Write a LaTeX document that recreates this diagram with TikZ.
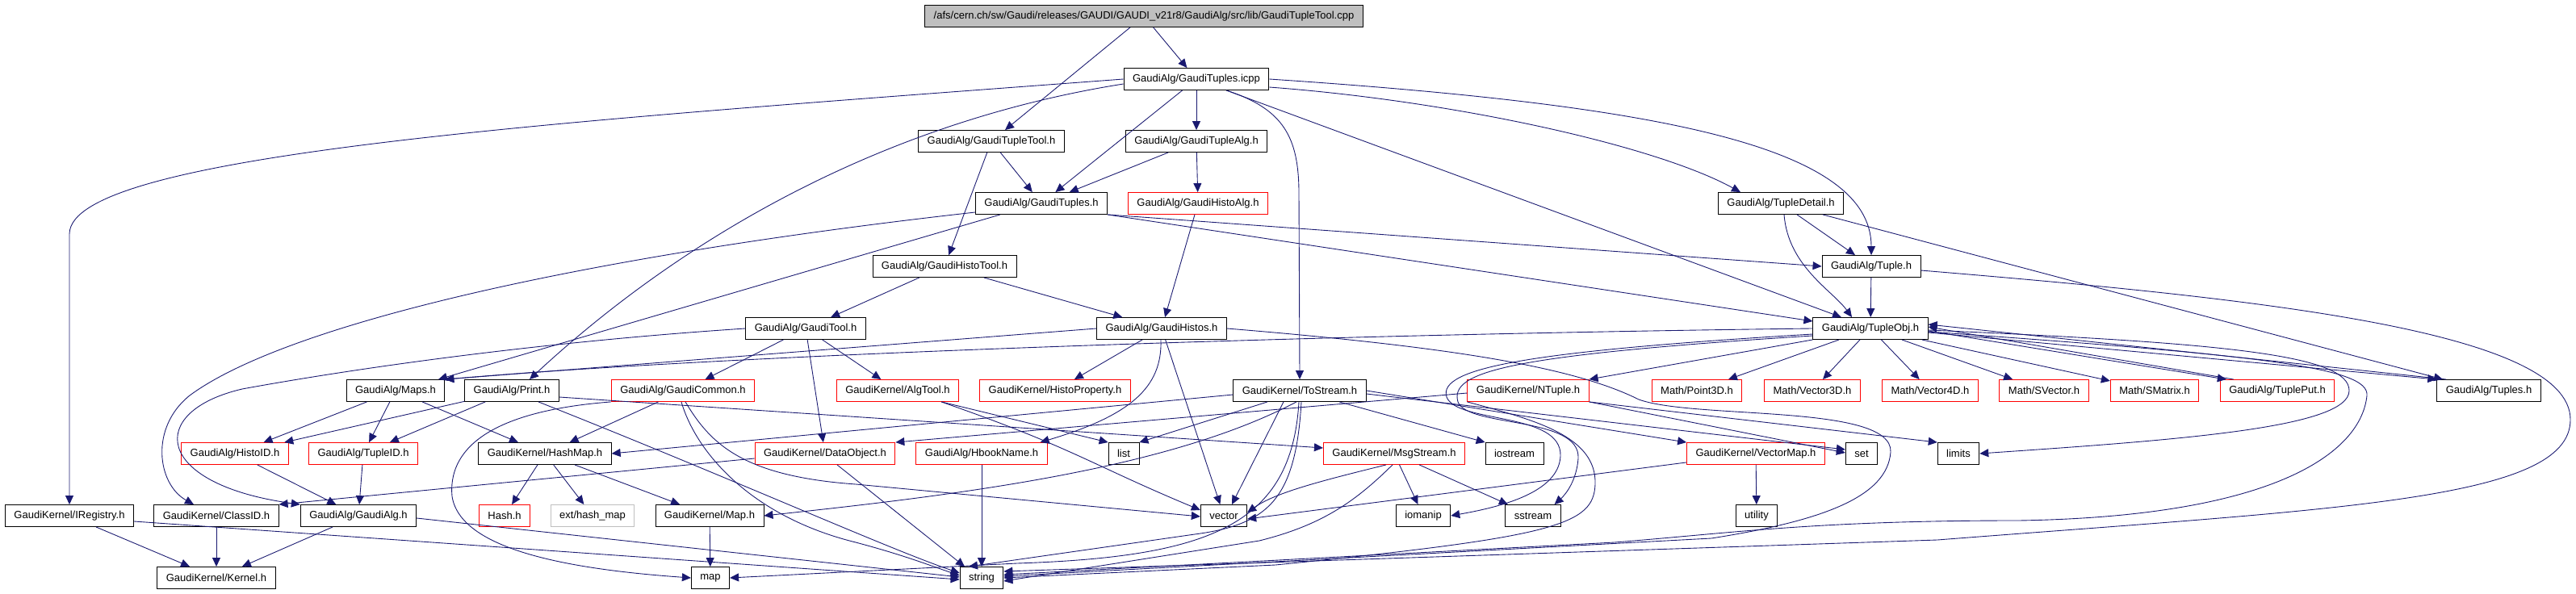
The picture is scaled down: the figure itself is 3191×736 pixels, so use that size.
\documentclass[tikz,border=0pt]{standalone}
\usepackage{fontspec}
\setmainfont{Liberation Sans}
\usetikzlibrary{arrows.meta}
\definecolor{edgeblue}{RGB}{25,25,112}
\definecolor{boxgray}{RGB}{191,191,191}

\tikzset{
  hdr/.style={draw=black, rectangle, line width=0.5pt, minimum height=5.4mm,
    inner xsep=2.2mm, inner ysep=0pt, font=\fontsize{7.4}{8.8}\selectfont},
  hdrred/.style={hdr, draw=red},
  hdrsys/.style={hdr, draw=boxgray},
  hdrmain/.style={hdr, fill=boxgray},
  incl/.style={draw=edgeblue, line width=0.5pt, -{Triangle[length=2.2mm,width=2mm]}}
}

\begin{document}
\begin{tikzpicture}[x=0.2mm, y=-0.2mm]
    \useasboundingbox (0,0) rectangle (3191,736);

    % Top files
    \node[hdrmain] (root) at (1417,20) {/afs/cern.ch/sw/Gaudi/releases/GAUDI/GAUDI\_v21r8/GaudiAlg/src/lib/GaudiTupleTool.cpp};
    \node[hdr] (icpp) at (1482,98) {GaudiAlg/GaudiTuples.icpp};
    \node[hdr] (tupletool) at (1228,175) {GaudiAlg/GaudiTupleTool.h};
    \node[hdr] (tuplealg) at (1482,175) {GaudiAlg/GaudiTupleAlg.h};
    \node[hdr] (tuplesh) at (1290,252) {GaudiAlg/GaudiTuples.h};
    \node[hdrred] (histoalg) at (1484,252) {GaudiAlg/GaudiHistoAlg.h};
    \node[hdr] (tupledetail) at (2206,252) {GaudiAlg/TupleDetail.h};
    \node[hdr] (histotool) at (1170,330) {GaudiAlg/GaudiHistoTool.h};
    \node[hdr] (tupleh) at (2318,330) {GaudiAlg/Tuple.h};
    \node[hdr] (gauditool) at (998,407) {GaudiAlg/GaudiTool.h};
    \node[hdr] (histos) at (1439,407) {GaudiAlg/GaudiHistos.h};
    \node[hdr] (tupleobj) at (2317,407) {GaudiAlg/TupleObj.h};

    % Middle row
    \node[hdr] (maps) at (490,484) {GaudiAlg/Maps.h};
    \node[hdr] (print) at (634,484) {GaudiAlg/Print.h};
    \node[hdrred] (common) at (846,484) {GaudiAlg/GaudiCommon.h};
    \node[hdrred] (algtool) at (1112,484) {GaudiKernel/AlgTool.h};
    \node[hdrred] (histoprop) at (1307,484) {GaudiKernel/HistoProperty.h};
    \node[hdr] (tostream) at (1610,484) {GaudiKernel/ToStream.h};
    \node[hdrred] (ntuple) at (1893,484) {GaudiKernel/NTuple.h};
    \node[hdrred] (point3d) at (2102,484) {Math/Point3D.h};
    \node[hdrred] (vector3d) at (2245,484) {Math/Vector3D.h};
    \node[hdrred] (vector4d) at (2391,484) {Math/Vector4D.h};
    \node[hdrred] (svector) at (2532,484) {Math/SVector.h};
    \node[hdrred] (smatrix) at (2669,484) {Math/SMatrix.h};
    \node[hdrred] (tupleput) at (2821,484) {GaudiAlg/TuplePut.h};
    \node[hdr] (tuples) at (3083,484) {GaudiAlg/Tuples.h};

    \node[hdrred] (histoid) at (291,562) {GaudiAlg/HistoID.h};
    \node[hdrred] (tupleid) at (450,562) {GaudiAlg/TupleID.h};
    \node[hdr] (hashmap) at (675,562) {GaudiKernel/HashMap.h};
    \node[hdrred] (dataobj) at (1022,562) {GaudiKernel/DataObject.h};
    \node[hdrred] (hbook) at (1216,562) {GaudiAlg/HbookName.h};
    \node[hdr] (list) at (1392,562) {list};
    \node[hdrred] (msgstream) at (1727,562) {GaudiKernel/MsgStream.h};
    \node[hdr] (iostream) at (1876,562) {iostream};
    \node[hdrred] (vectormap) at (2175,562) {GaudiKernel/VectorMap.h};
    \node[hdr] (set) at (2306,562) {set};
    \node[hdr] (limits) at (2426,562) {limits};

    % Bottom rows
    \node[hdr] (iregistry) at (86,639) {GaudiKernel/IRegistry.h};
    \node[hdr] (classid) at (268,639) {GaudiKernel/ClassID.h};
    \node[hdr] (gaudialg) at (444,639) {GaudiAlg/GaudiAlg.h};
    \node[hdrred] (hash) at (625,639) {Hash.h};
    \node[hdrsys] (exthash) at (734,639) {ext/hash\_map};
    \node[hdr] (maph) at (879,639) {GaudiKernel/Map.h};
    \node[hdr] (vector) at (1516,639) {vector};
    \node[hdr] (iomanip) at (1763,639) {iomanip};
    \node[hdr] (sstream) at (1899,639) {sstream};
    \node[hdr] (utility) at (2176,639) {utility};

    \node[hdr] (kernel) at (268,716) {GaudiKernel/Kernel.h};
    \node[hdr] (map) at (880,716) {map};
    \node[hdr] (string) at (1216,716) {string};

    % Includes of the top files
    \draw[incl] (root) -- (icpp);
    \draw[incl] (root) -- (tupletool);
    \draw[incl] (icpp) -- (tuplealg);
    \draw[incl] (icpp) -- (tuplesh);
    \draw[incl] (icpp.west) .. controls (700,150) and (86,190) .. (86,290) -- (iregistry.north);
    \draw[incl] ([yshift=-1.2mm]icpp.west) .. controls (1100,150) and (850,290) .. ([xshift=4.4mm]print.north);
    \draw[incl] ([xshift=7.4mm]icpp.south) .. controls (1590,135) and (1609,170) .. (1609,240) -- (tostream.north);
    \draw[incl] ([yshift=-2mm]icpp.east) .. controls (1800,125) and (2050,180) .. ([xshift=-10mm]tupledetail.north);
    \draw[incl] (icpp.east) .. controls (2050,130) and (2318,180) .. (tupleh.north);
    \draw[incl] ([xshift=7.4mm]icpp.south) -- ([xshift=-7.2mm]tupleobj.north);
    \draw[incl] (tupletool) -- (tuplesh);
    \draw[incl] (tupletool) -- (histotool);
    \draw[incl] (tuplealg) -- (tuplesh);
    \draw[incl] (tuplealg) -- (histoalg);
    \draw[incl] (histoalg) -- (histos);
    \draw[incl] (histotool) -- (gauditool);
    \draw[incl] (histotool) -- (histos);

    % GaudiTuples.h
    \draw[incl] ([yshift=-2.2mm]tuplesh.west) .. controls (700,320) and (350,405) .. (235,490) .. controls (185,530) and (195,600) .. ([xshift=-5.6mm]classid.north);
    \draw[incl] ([xshift=-10.2mm]tuplesh.south) -- ([xshift=10.6mm]maps.north);
    \draw[incl] (tuplesh.south east) -- (tupleh.west);
    \draw[incl] (tuplesh.south east) -- ([yshift=1.8mm]tupleobj.west);

    % TupleDetail.h and Tuple.h
    \draw[incl] (tupledetail) -- (tupleh);
    \draw[incl] ([xshift=0.8mm]tupledetail.south) .. controls (2215,330) and (2270,360) .. ([xshift=-4.6mm]tupleobj.north);
    \draw[incl] ([xshift=10.4mm]tupledetail.south) -- ([xshift=-11.4mm]tuples.north);
    \draw[incl] (tupleh) -- (tupleobj);
    \draw[incl] ([yshift=-1mm]tupleh.east) .. controls (2800,370) and (3184,410) .. (3184,520) .. controls (3184,620) and (2900,630) .. (2400,669) -- ([yshift=1.6mm]string.east);

    % TupleObj.h
    \draw[incl] (tupleobj.west) .. controls (1600,415) and (900,440) .. (maps.north east);
    \draw[incl] (tupleobj.south west) -- (ntuple.north east);
    \draw[incl] (tupleobj) -- (point3d);
    \draw[incl] (tupleobj) -- (vector3d);
    \draw[incl] (tupleobj) -- (vector4d);
    \draw[incl] (tupleobj) -- (svector);
    \draw[incl] (tupleobj) -- (smatrix);
    \draw[incl] ([yshift=-0.6mm]tupleobj.east) -- ([xshift=1.6mm]tupleput.north west);
    \draw[incl] ([xshift=3.4mm]tupleput.north west) -- ([yshift=0.4mm]tupleobj.east);
    \draw[incl] ([yshift=-1mm]tupleobj.east) -- (tuples.north west);
    \draw[incl] ([xshift=2.4mm]tuples.north west) -- ([yshift=1mm]tupleobj.east);
    \draw[incl] ([yshift=-0.4mm]tupleobj.east) .. controls (2760,425) and (2910,440) .. (2910,484) .. controls (2910,530) and (2700,545) .. (limits.east);
    \draw[incl] ([yshift=-0.8mm]tupleobj.east) .. controls (2800,440) and (2935,455) .. (2932,490) .. controls (2925,560) and (2820,640) .. (2500,645) .. controls (2250,645) and (2150,660) .. (2000,672) -- ([yshift=0.8mm]string.east);
    \draw[incl] ([yshift=-1.4mm]tupleobj.west) .. controls (1900,435) and (1780,455) .. (1792,492) .. controls (1805,525) and (1935,510) .. (1933,565) .. controls (1931,610) and (1860,628) .. (iomanip.east);
    \draw[incl] ([yshift=-1.8mm]tupleobj.west) .. controls (1870,440) and (1795,460) .. (1806,498) .. controls (1818,530) and (1958,515) .. (1955,568) .. controls (1953,595) and (1940,612) .. ([xshift=-1.6mm]sstream.north east);

    % GaudiHistos.h and GaudiTool.h
    \draw[incl] (histos.west) -- (maps.north east);
    \draw[incl] (histos) -- (histoprop);
    \draw[incl] (histos) -- (vector);
    \draw[incl] ([xshift=-0.2mm]histos.south) .. controls (1440,480) and (1400,515) .. ([xshift=-1.8mm]hbook.north east);
    \draw[incl] (histos.east) .. controls (1800,430) and (1950,455) .. (2030,495) .. controls (2100,520) and (2345,500) .. (2342,560) .. controls (2338,615) and (2260,645) .. (2120,667) -- ([yshift=0.4mm]string.east);
    \draw[incl] (gauditool) -- (common);
    \draw[incl] (gauditool) -- (algtool);
    \draw[incl] (gauditool) -- (dataobj);
    \draw[incl] (gauditool.west) .. controls (650,425) and (420,460) .. (300,482) .. controls (180,510) and (190,600) .. (gaudialg.north west);

    % Maps.h, Print.h, GaudiCommon.h
    \draw[incl] (maps) -- (histoid);
    \draw[incl] (maps) -- (tupleid);
    \draw[incl] (maps) -- (hashmap);
    \draw[incl] (print) -- (histoid);
    \draw[incl] (print) -- (tupleid);
    \draw[incl] ([yshift=-1.6mm]print.east) -- ([yshift=1.4mm]msgstream.west);
    \draw[incl] ([xshift=6.6mm]print.south) .. controls (900,590) and (1100,680) .. ([yshift=1.2mm]string.west);
    \draw[incl] (common) -- (hashmap);
    \draw[incl] (common.south west) .. controls (600,510) and (555,560) .. (560,615) .. controls (570,680) and (700,705) .. (map.west);
    \draw[incl] ([xshift=0.6mm]common.south) .. controls (880,550) and (920,590) .. (1060,600) -- ([yshift=-0.2mm]vector.west);
    \draw[incl] ([xshift=-0.4mm]common.south) .. controls (862,560) and (930,640) .. (1060,672) .. controls (1120,688) and (1150,700) .. ([yshift=0.6mm]string.west);

    % AlgTool.h, DataObject.h, HbookName.h
    \draw[incl] ([xshift=-4.4mm]algtool.south east) -- (list.north west);
    \draw[incl] ([xshift=-4.4mm]algtool.south east) .. controls (1330,555) and (1350,575) .. ([yshift=1.4mm]vector.west);
    \draw[incl] ([yshift=-1.2mm]dataobj.west) -- (classid.north east);
    \draw[incl] ([xshift=3mm]dataobj.south) -- ([xshift=-4.2mm]string.north);
    \draw[incl] (hbook) -- (string);

    % ToStream.h
    \draw[incl] ([yshift=-1mm]tostream.west) -- (hashmap.east);
    \draw[incl] ([xshift=-0.8mm]tostream.south) .. controls (1450,580) and (1200,612) .. (maph.east);
    \draw[incl] ([xshift=-0.2mm]tostream.south) .. controls (1600,650) and (1500,690) .. (1260,698) -- (map.east);
    \draw[incl] ([xshift=0.4mm]tostream.south) .. controls (1605,620) and (1570,650) .. (1480,662) -- ([xshift=-3.2mm]string.north);
    \draw[incl] ([xshift=-8mm]tostream.south) -- (list.north east);
    \draw[incl] ([xshift=-4mm]tostream.south) -- ([xshift=2mm]vector.north);
    \draw[incl] ([xshift=9.8mm]tostream.south) -- (iostream.north west);
    \draw[incl] (tostream.east) -- (vectormap.north west);
    \draw[incl] ([yshift=-0.8mm]tostream.east) -- ([yshift=1mm]set.west);

    % NTuple.h, MsgStream.h, VectorMap.h
    \draw[incl] ([yshift=-0.6mm]ntuple.west) -- (dataobj.north east);
    \draw[incl] (ntuple.south east) -- (limits.north west);
    \draw[incl] (ntuple.south east) -- ([yshift=0.2mm]set.west);
    \draw[incl] (ntuple.south west) .. controls (1900,520) and (1978,540) .. (1976,600) .. controls (1974,650) and (1930,665) .. (1580,700) -- (string.east);
    \draw[incl] (msgstream) -- (iomanip);
    \draw[incl] (msgstream) -- (sstream);
    \draw[incl] ([xshift=-2mm]msgstream.south) .. controls (1640,595) and (1580,610) .. ([yshift=0.8mm]vector.east);
    \draw[incl] ([xshift=-0.4mm]msgstream.south) .. controls (1680,620) and (1640,650) .. (1560,670) -- ([yshift=-0.8mm]string.east);
    \draw[incl] (vectormap) -- (utility);
    \draw[incl] ([yshift=0.6mm]vectormap.south west) -- ([yshift=-0.8mm]vector.east);

    % HashMap.h and the lower files
    \draw[incl] (hashmap) -- (hash);
    \draw[incl] (hashmap) -- (exthash);
    \draw[incl] (hashmap) -- (maph);
    \draw[incl] (maph) -- (map);
    \draw[incl] (histoid) -- (gaudialg);
    \draw[incl] (tupleid) -- (gaudialg);
    \draw[incl] (iregistry) -- (kernel);
    \draw[incl] (classid) -- (kernel);
    \draw[incl] (gaudialg) -- (kernel);
    \draw[incl] ([yshift=-1.4mm]iregistry.east) -- ([yshift=-0.4mm]string.west);
    \draw[incl] ([yshift=-0.6mm]gaudialg.east) -- ([yshift=0.2mm]string.west);
\end{tikzpicture}
\end{document}
